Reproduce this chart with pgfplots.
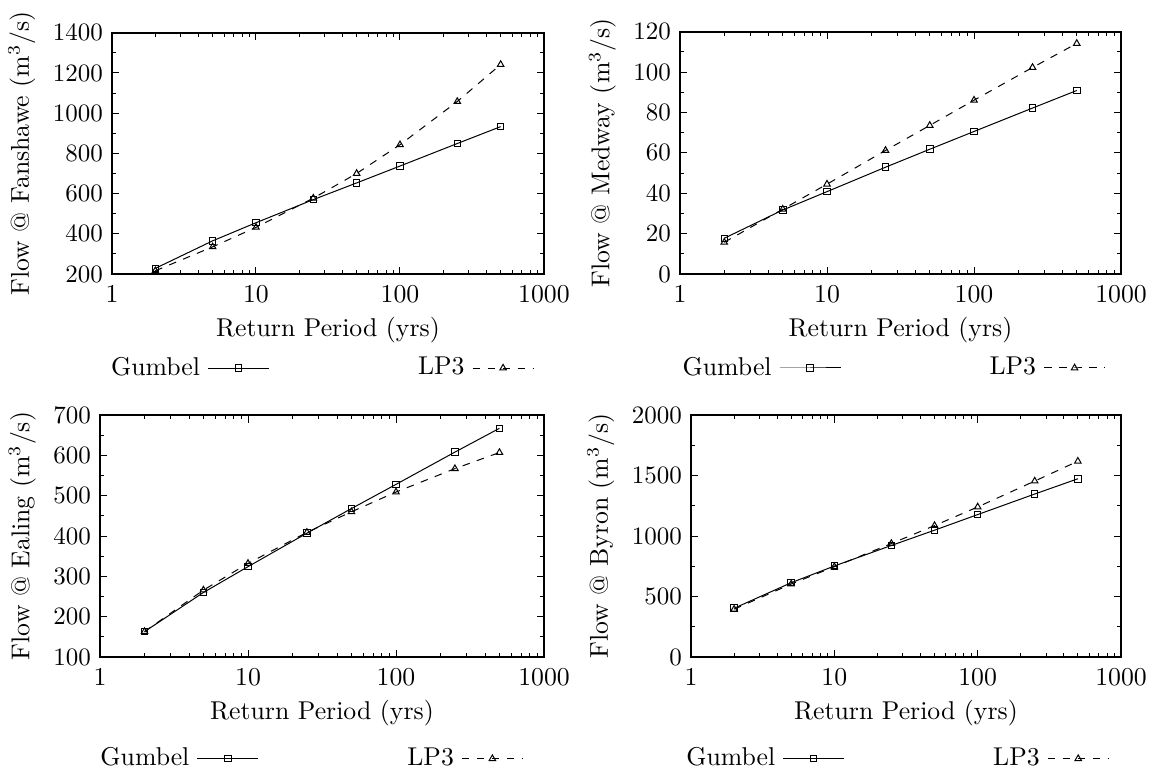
\documentclass[border=0pt]{standalone}
\usepackage{pgfplots}
\pgfplotsset{compat=1.18}
\pgfplotsset{
  panel/.style={
    scale only axis, anchor=south west,
    xmin=1, xmax=1000,
    xtick={1,10,100,1000}, xticklabels={1,10,100,1000},
    minor xtick={2,3,4,5,6,7,8,9,20,30,40,50,60,70,80,90,200,300,400,500,600,700,800,900},
    minor y tick num=1,
    tick align=inside,
    major tick length=3pt, minor tick length=1.5pt,
    every tick/.style={black, line width=0.4pt},
    axis line style={line width=0.8pt},
    /pgf/number format/1000 sep={},
    xticklabel style={yshift=-1pt},
    xlabel={Return Period (yrs)},
    xlabel style={yshift=1.5pt},
    legend plot pos=right, legend columns=2,
    legend image code/.code={\draw[mark repeat=2,mark phase=2,##1] plot coordinates {(0pt,0pt) (12.2pt,0pt) (24.4pt,0pt)};},
    legend style={draw=none, fill=none, inner sep=0pt, anchor=west,
      nodes={inner sep=0pt},
      /tikz/every odd column/.append style={column sep=3pt},
      /tikz/every even column/.append style={column sep=59.4pt}},
  },
  gum/.style={black, line width=0.4pt, mark=square, mark size=1.3pt},
  lp3/.style={black, line width=0.4pt, dash pattern=on 3pt off 3pt, mark=triangle, mark size=1.5pt, mark options={solid}},
}
\begin{document}
\fontsize{10.3}{12.4}\selectfont
\begin{tikzpicture}
\useasboundingbox (0pt,0pt) rectangle (462.8pt,-307.6pt);
% Fanshawe
\begin{semilogxaxis}[panel, at={(44.8pt,-109.6pt)}, width=172.8pt, height=96.5pt,
  ymin=200, ymax=1400, ytick={200,400,...,1400},
  ylabel={Flow @ Fanshawe (m$^3$/s)},
  legend style={at={(-0.003,-0.39)}}]
\addplot[gum] coordinates {(2,228) (5,365) (10,455) (25,570) (50,653) (100,737) (250,849) (500,933)};
\addlegendentry{Gumbel}
\addplot[lp3] coordinates {(2,216) (5,335) (10,432) (25,577) (50,700) (100,843) (250,1058) (500,1242)};
\addlegendentry{LP3}
\end{semilogxaxis}
% Medway
\begin{semilogxaxis}[panel, at={(272pt,-109.6pt)}, width=176.4pt, height=96.9pt,
  ymin=0, ymax=120, ytick={0,20,...,120},
  ylabel={Flow @ Medway (m$^3$/s)},
  legend style={at={(0.005,-0.388)}}]
\addplot[gum] coordinates {(2,17.7) (5,31.7) (10,40.8) (25,52.9) (50,61.8) (100,70.6) (250,82.2) (500,90.9)};
\addlegendentry{Gumbel}
\addplot[lp3] coordinates {(2,15.7) (5,32.1) (10,44.5) (25,61.2) (50,73.6) (100,86.1) (250,102.3) (500,114.2)};
\addlegendentry{LP3}
\end{semilogxaxis}
% Ealing
\begin{semilogxaxis}[panel, at={(40pt,-262.8pt)}, width=177.6pt, height=96.8pt,
  ymin=100, ymax=700, ytick={100,200,...,700},
  ylabel={Flow @ Ealing (m$^3$/s)},
  legend style={at={(0,-0.42)}}]
\addplot[gum] coordinates {(2,163) (5,260) (10,324) (25,407) (50,468) (100,528) (250,608) (500,667)};
\addlegendentry{Gumbel}
\addplot[lp3] coordinates {(2,163) (5,266) (10,332) (25,409) (50,460) (100,509) (250,567) (500,607)};
\addlegendentry{LP3}
\end{semilogxaxis}
% Byron
\begin{semilogxaxis}[panel, at={(276.4pt,-262.8pt)}, width=172pt, height=96.8pt,
  ymin=0, ymax=2000, ytick={0,500,...,2000},
  ylabel={Flow @ Byron (m$^3$/s)},
  legend style={at={(-0.012,-0.42)}}]
\addplot[gum] coordinates {(2,403) (5,614) (10,752) (25,922) (50,1048) (100,1177) (250,1347) (500,1473)};
\addlegendentry{Gumbel}
\addplot[lp3] coordinates {(2,395) (5,603) (10,746) (25,938) (50,1086) (100,1240) (250,1454) (500,1618)};
\addlegendentry{LP3}
\end{semilogxaxis}
\end{tikzpicture}
\end{document}
